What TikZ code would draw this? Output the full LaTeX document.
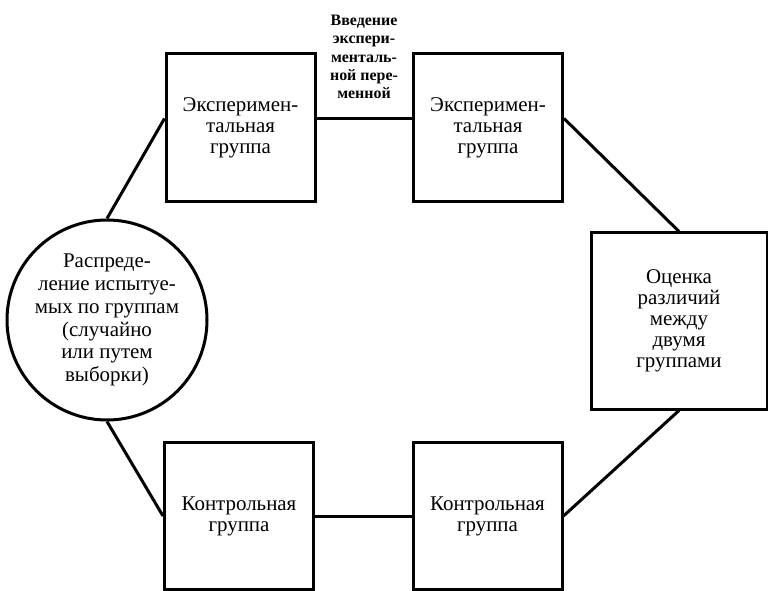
\documentclass[tikz,border=0pt]{standalone}
\usepackage{fontspec}
\setmainfont{Liberation Serif}
\usetikzlibrary{positioning}

\begin{document}
\begin{tikzpicture}[x=1bp, y=-1bp,
    grp/.style={draw, line width=3bp, minimum width=149bp, minimum height=147bp,
      inner sep=0pt, align=center, font=\fontsize{21}{21}\selectfont},
    link/.style={line width=3bp}]
  \useasboundingbox (0,0) rectangle (768,591);

  % assignment
  \node[draw, circle, line width=3bp, minimum size=200bp, inner sep=0pt, align=center,
        font=\fontsize{21}{23}\selectfont] (assign) at (107,320)
        {Распреде-\\ление испытуе-\\мых по группам\\(случайно\\или путем\\выборки)};

  % experimental groups
  \node[grp] (exp1) at (240.5,127.5) {Эксперимен-\\тальная\\группа};
  \node[grp] (exp2) at (488,127.5) {Эксперимен-\\тальная\\группа};
  % control groups
  \node[grp] (ctl1) at (239,516) {Контрольная\\группа};
  \node[grp] (ctl2) at (487.5,516) {Контрольная\\группа};
  % comparison
  \node[grp, minimum width=176bp, minimum height=176bp] (eval) at (679,321)
        {Оценка\\различий\\между\\двумя\\группами};

  % treatment
  \node[align=center, inner sep=0pt, font=\bfseries\fontsize{16}{18.3}\selectfont] (treat) at (364,57)
        {Введение\\экспери-\\менталь-\\ной пере-\\менной};

  % links
  \draw[link] (assign.north) -- ([yshift=9bp]exp1.west);
  \draw[link] ([yshift=9bp]exp1.east) -- ([yshift=9bp]exp2.west);
  \draw[link] ([yshift=9bp]exp2.east) -- (eval.north);
  \draw[link] (assign.south) -- (ctl1.west);
  \draw[link] (ctl1.east) -- (ctl2.west);
  \draw[link] (ctl2.east) -- (eval.south);
\end{tikzpicture}
\end{document}
